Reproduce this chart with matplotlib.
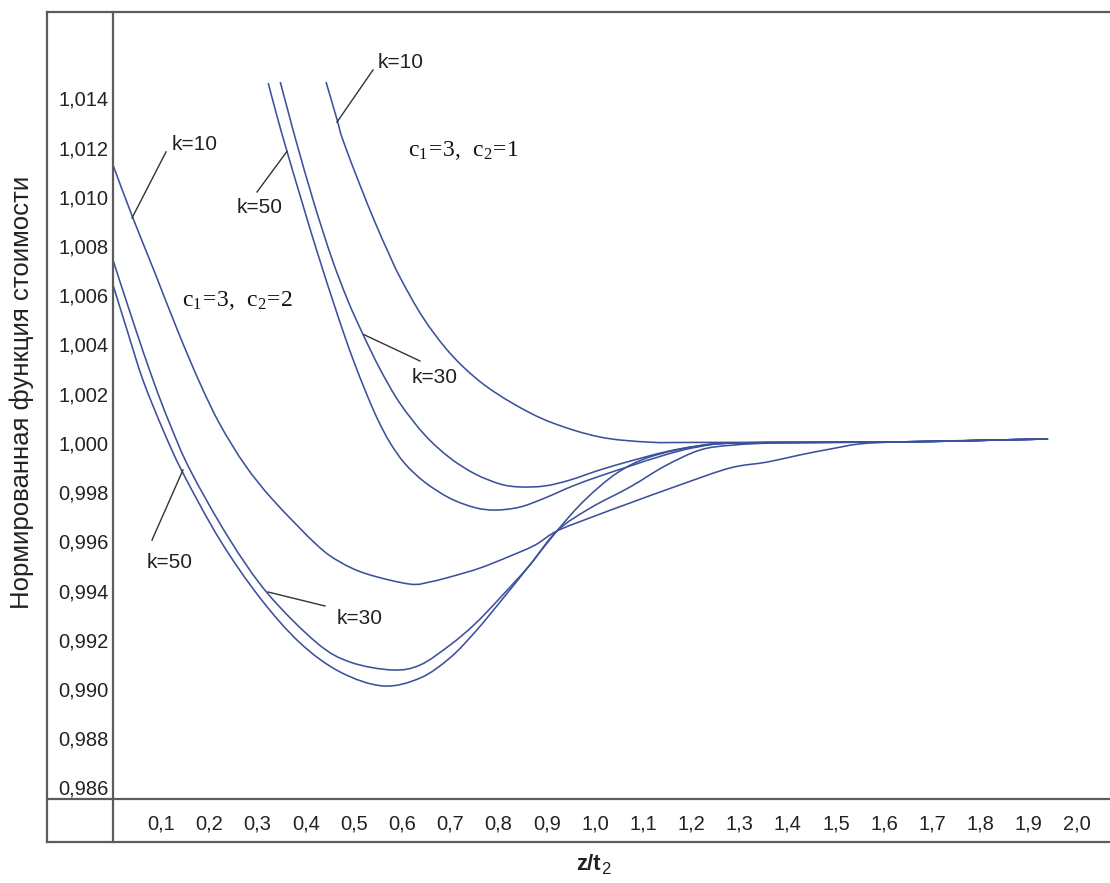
import matplotlib
matplotlib.use("Agg")
import matplotlib.pyplot as plt
from matplotlib.lines import Line2D
from matplotlib.path import Path
from matplotlib.patches import PathPatch

# ---------------- data ----------------
x_ticks = [0.1, 0.2, 0.3, 0.4, 0.5, 0.6, 0.7, 0.8, 0.9, 1.0,
           1.1, 1.2, 1.3, 1.4, 1.5, 1.6, 1.7, 1.8, 1.9, 2.0]
x_tick_labels = ["0,1", "0,2", "0,3", "0,4", "0,5", "0,6", "0,7", "0,8", "0,9", "1,0",
                 "1,1", "1,2", "1,3", "1,4", "1,5", "1,6", "1,7", "1,8", "1,9", "2,0"]
y_ticks = [1.014, 1.012, 1.010, 1.008, 1.006, 1.004, 1.002, 1.000,
           0.998, 0.996, 0.994, 0.992, 0.990, 0.988, 0.986]
y_tick_labels = ["1,014", "1,012", "1,010", "1,008", "1,006", "1,004", "1,002", "1,000",
                 "0,998", "0,996", "0,994", "0,992", "0,990", "0,988", "0,986"]

# c1=3, c2=2
z_c2_2_k10 = [0, 0.039, 0.087, 0.135, 0.181, 0.222, 0.274, 0.332, 0.423, 0.471, 0.527, 0.616,
              0.658, 0.699, 0.761, 0.824, 0.876, 0.921, 1.000, 1.073, 1.176, 1.280, 1.357,
              1.425, 1.488, 1.550, 1.633, 1.840, 1.940]
f_c2_2_k10 = [1.01130, 1.00926, 1.00691, 1.00452, 1.00240, 1.00075, 0.99910, 0.99768, 0.99585,
              0.99516, 0.99467, 0.99426, 0.99435, 0.99455, 0.99491, 0.99540, 0.99585, 0.99642,
              0.99703, 0.99756, 0.99829, 0.99898, 0.99922, 0.99951, 0.99975, 0.99996, 1.00004,
              1.00012, 1.00016]

z_c2_2_k30 = [0, 0.042, 0.083, 0.118, 0.160, 0.239, 0.320, 0.423, 0.492, 0.579, 0.637, 0.699,
              0.751, 0.803, 0.865, 0.921, 0.990, 1.073, 1.145, 1.218, 1.286, 1.384, 1.633,
              1.840, 1.940]
f_c2_2_k30 = [1.00743, 1.00491, 1.00256, 1.00077, 0.99890, 0.99617, 0.99390, 0.99187, 0.99109,
              0.99077, 0.99097, 0.99178, 0.99264, 0.99370, 0.99504, 0.99642, 0.99735, 0.99821,
              0.99906, 0.99971, 0.99991, 1.00000, 1.00004, 1.00012, 1.00016]

z_c2_2_k50 = [0, 0.031, 0.062, 0.104, 0.145, 0.222, 0.305, 0.388, 0.471, 0.560, 0.637, 0.699,
              0.751, 0.803, 0.865, 0.921, 0.979, 1.046, 1.114, 1.212, 1.301, 1.633, 1.840, 1.940]
f_c2_2_k50 = [1.00642, 1.00447, 1.00256, 1.00052, 0.99878, 0.99605, 0.99370, 0.99187, 0.99069,
              0.99012, 0.99044, 0.99126, 0.99231, 0.99353, 0.99504, 0.99642, 0.99768, 0.99878,
              0.99943, 0.99987, 1.00000, 1.00004, 1.00012, 1.00016]

# c1=3, c2=1
z_c2_1_k10 = [0.442, 0.465, 0.477, 0.512, 0.544, 0.571, 0.595, 0.643, 0.699, 0.761, 0.830,
              0.907, 1.010, 1.114, 1.218, 1.633, 1.840, 1.940]
f_c2_1_k10 = [1.01467, 1.01313, 1.01231, 1.01050, 1.00895, 1.00775, 1.00675, 1.00510, 1.00365,
              1.00250, 1.00160, 1.00085, 1.00024, 1.00003, 1.00002, 1.00004, 1.00012, 1.00016]

z_c2_1_k30 = [0.347, 0.365, 0.382, 0.417, 0.454, 0.488, 0.519, 0.554, 0.595, 0.647, 0.699,
              0.751, 0.803, 0.844, 0.896, 0.948, 1.010, 1.073, 1.145, 1.212, 1.301, 1.633,
              1.840, 1.940]
f_c2_1_k30 = [1.01467, 1.01335, 1.01212, 1.00975, 1.00750, 1.00575, 1.00440, 1.00300, 1.00162,
              1.00032, 0.99939, 0.99874, 0.99833, 0.99821, 0.99825, 0.99849, 0.99890, 0.99926,
              0.99963, 0.99987, 1.00000, 1.00004, 1.00012, 1.00016]

z_c2_1_k50 = [0.322, 0.340, 0.361, 0.392, 0.423, 0.465, 0.496, 0.527, 0.550, 0.575, 0.606,
              0.647, 0.699, 0.751, 0.793, 0.844, 0.896, 0.954, 1.010, 1.073, 1.145, 1.212,
              1.301, 1.633, 1.840, 1.940]
f_c2_1_k50 = [1.01463, 1.01330, 1.01185, 1.00980, 1.00780, 1.00525, 1.00350, 1.00195, 1.00092,
              1.00000, 0.99915, 0.99840, 0.99775, 0.99737, 0.99727, 0.99739, 0.99776, 0.99825,
              0.99865, 0.99906, 0.99951, 0.99983, 1.00000, 1.00004, 1.00012, 1.00016]

series = [
    (z_c2_2_k10, f_c2_2_k10), (z_c2_2_k30, f_c2_2_k30), (z_c2_2_k50, f_c2_2_k50),
    (z_c2_1_k10, f_c2_1_k10), (z_c2_1_k30, f_c2_1_k30), (z_c2_1_k50, f_c2_1_k50),
]


def smooth_path(xs, ys):
    """Bezier path through every data point (Catmull-Rom tangents)."""
    pts = list(zip(xs, ys))
    verts = [pts[0]]
    codes = [Path.MOVETO]
    n = len(pts)
    for i in range(n - 1):
        p0 = pts[i - 1] if i > 0 else pts[i]
        p1 = pts[i]
        p2 = pts[i + 1]
        p3 = pts[i + 2] if i + 2 < n else p2
        c1 = (p1[0] + (p2[0] - p0[0]) / 6.0, p1[1] + (p2[1] - p0[1]) / 6.0)
        c2 = (p2[0] - (p3[0] - p1[0]) / 6.0, p2[1] - (p3[1] - p1[1]) / 6.0)
        verts += [c1, c2, p2]
        codes += [Path.CURVE4] * 3
    return Path(verts, codes)


# ---------------- figure ----------------
W, H = 1110, 883
DPI = 100
fig = plt.figure(figsize=(W / DPI, H / DPI), dpi=DPI)
fig.patch.set_facecolor("white")


def fx(px):
    return px / W


def fy(py):
    return 1 - py / H


AX_L, AX_T, AX_B = 113, 12, 799
ax = fig.add_axes([fx(AX_L), fy(AX_B), (W - AX_L) / W, (AX_B - AX_T) / H])
ax.set_xlim(0, (W - AX_L) / 482.0)
ax.set_ylim(1 - (AX_B - 442.9) / 24600.0, 1 + (442.9 - AX_T) / 24600.0)
for s in ax.spines.values():
    s.set_visible(False)

LINE_C = "#3c519b"
for z, f in series:
    ax.add_patch(PathPatch(smooth_path(z, f), fill=False, edgecolor=LINE_C, lw=1.15,
                           capstyle="butt"))

TICK_FONT = "Liberation Sans"
ax.set_xticks(x_ticks)
ax.set_xticklabels(x_tick_labels, fontsize=14.5, family=TICK_FONT, color="#222222")
ax.set_yticks(y_ticks)
ax.set_yticklabels(y_tick_labels, fontsize=14.5, family=TICK_FONT, color="#222222")
ax.tick_params(axis="both", length=0)
ax.tick_params(axis="y", pad=3)
ax.tick_params(axis="x", pad=11)

# table-like frame
FRAME_C = "#5c5c5c"
frame_lines = [
    ((47, 1110), (12, 12)),
    ((47, 47), (12, 842)),
    ((113, 113), (12, 842)),
    ((47, 1110), (799, 799)),
    ((47, 1110), (842, 842)),
]
for xs, ys in frame_lines:
    fig.add_artist(Line2D([fx(v) for v in xs], [fy(v) for v in ys],
                          transform=fig.transFigure, color=FRAME_C, lw=1.6))

# axis titles
fig.text(fx(22), fy(392), "Нормированная функция стоимости", rotation=90,
         ha="center", va="center", fontsize=18.5, family="Liberation Sans", color="#222222")
fig.text(fx(601), fy(870), "z/t", ha="right", va="baseline", fontsize=16,
         family="Liberation Sans", fontweight="bold", color="#222222")
fig.text(fx(601), fy(874), "2", ha="left", va="baseline", fontsize=12,
         family="Liberation Sans", color="#222222")

# annotations: (text, text_x, text_y, line_from, line_to)
ann_font = dict(fontsize=15, family="Liberation Sans", color="#222222", va="center", ha="left")
annotations = [
    ("k=10", 0.550, 1.01548, (0.4647, 1.01304), (0.5394, 1.01516)),
    ("k=10", 0.122, 1.01215, (0.0394, 1.00914), (0.1100, 1.01183)),
    ("k=50", 0.257, 1.00955, (0.3610, 1.01185), (0.2988, 1.01020)),
    ("k=30", 0.620, 1.00264, (0.5207, 1.00440), (0.6369, 1.00333)),
    ("k=50", 0.0705, 0.99512, (0.1452, 0.99890), (0.0809, 0.99605)),
    ("k=30", 0.4647, 0.99288, (0.3216, 0.99394), (0.4398, 0.99337)),
]
for txt, tx, ty, p0, p1 in annotations:
    ax.plot([p0[0], p1[0]], [p0[1], p1[1]], color="#333333", lw=1.0)
    ax.text(tx, ty, txt, **ann_font)

param_font = dict(fontsize=17, family="Liberation Serif", color="#111111", va="center", ha="left")
ax.text(0.612, 1.01190, r"$\mathregular{c_1\!=\!3,\ c_2\!=\!1}$", **param_font)
ax.text(0.143, 1.00577, r"$\mathregular{c_1\!=\!3,\ c_2\!=\!2}$", **param_font)

fig.savefig("out.png", dpi=DPI, facecolor="white")
